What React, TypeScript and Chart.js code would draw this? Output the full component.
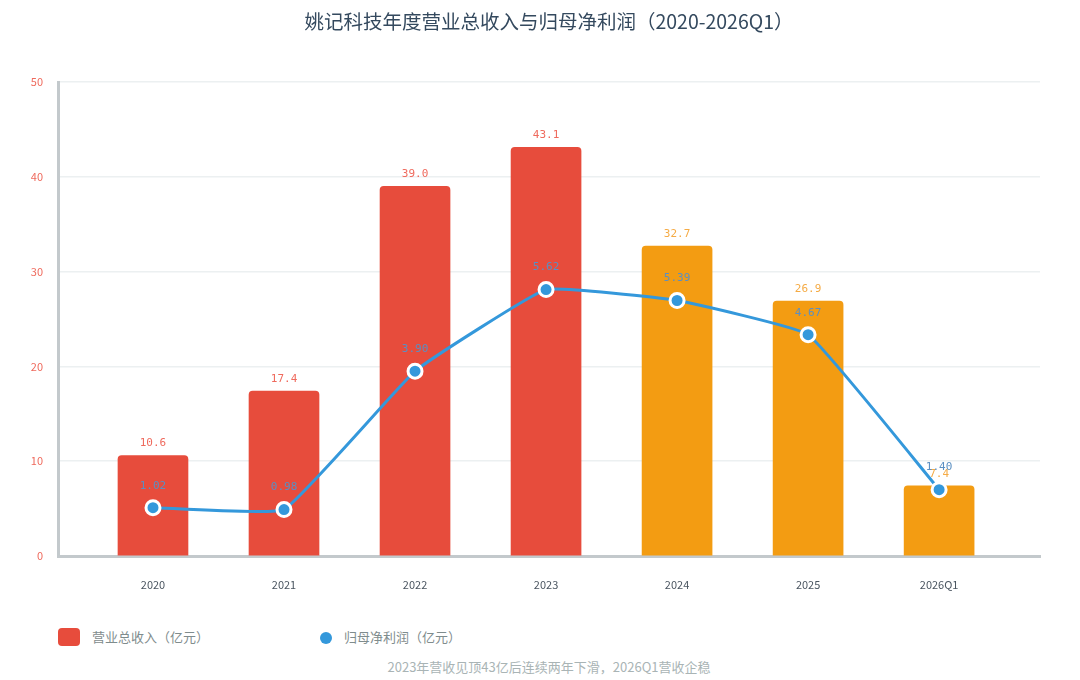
import React, { useEffect, useRef } from "react";
import { Chart, registerables } from "chart.js";

Chart.register(...registerables);

const categories = ["2020", "2021", "2022", "2023", "2024", "2025", "2026Q1"];
const revenue = [10.6, 17.4, 39.0, 43.1, 32.7, 26.9, 7.4];
const netProfit = [1.02, 0.98, 3.9, 5.62, 5.39, 4.67, 1.4];
const revenueTicks = [0, 10, 20, 30, 40, 50];
const profitAxisMax = 10;

const TITLE = "姚记科技年度营业总收入与归母净利润（2020-2026Q1）";
const REVENUE_LABEL = "营业总收入（亿元）";
const PROFIT_LABEL = "归母净利润（亿元）";
const FOOTNOTE = "2023年营收见顶43亿后连续两年下滑，2026Q1营收企稳";

const RED = "#e74c3c";
const ORANGE = "#f39c12";
const BLUE = "#3498db";
const barColors = [RED, RED, RED, RED, ORANGE, ORANGE, ORANGE];
const barLabelColors = ["#ef6a5d", "#ef6a5d", "#ef6a5d", "#ef6a5d", "#f5ab45", "#f5ab45", "#f5ab45"];
const PROFIT_LABEL_COLOR = "#5b8fc2";

const CJK = "'Noto Sans CJK SC', 'Noto Sans', sans-serif";
const MONO = "'DejaVu Sans Mono', 'Liberation Mono', monospace";

const valueLabels = {
  id: "valueLabels",
  afterDatasetsDraw(chart: any) {
    const ctx = chart.ctx;
    ctx.save();
    ctx.font = "11px " + MONO;
    ctx.textAlign = "center";
    ctx.textBaseline = "middle";
    const barMeta = chart.getDatasetMeta(0);
    barMeta.data.forEach((el: any, i: number) => {
      ctx.fillStyle = barLabelColors[i];
      ctx.fillText(revenue[i].toFixed(1), el.x, el.y - 12);
    });
    const lineMeta = chart.getDatasetMeta(1);
    lineMeta.data.forEach((el: any, i: number) => {
      ctx.fillStyle = PROFIT_LABEL_COLOR;
      ctx.fillText(netProfit[i].toFixed(2), el.x, el.y - 22);
    });
    ctx.restore();
  },
};

export default function App() {
  const canvasRef = useRef<HTMLCanvasElement | null>(null);

  useEffect(() => {
    const canvas = canvasRef.current;
    if (!canvas) return;
    const chart = new Chart(canvas, {
      type: "bar",
      data: {
        datasets: [
          {
            type: "bar",
            label: REVENUE_LABEL,
            data: revenue.map((v, i) => ({ x: i, y: v })),
            backgroundColor: barColors,
            borderRadius: 4,
            borderSkipped: "start",
            barThickness: 70,
            yAxisID: "y",
            order: 1,
          },
          {
            type: "line",
            label: PROFIT_LABEL,
            data: netProfit.map((v, i) => ({ x: i, y: v })),
            borderColor: BLUE,
            borderWidth: 3,
            backgroundColor: BLUE,
            pointBackgroundColor: BLUE,
            pointBorderColor: "#ffffff",
            pointBorderWidth: 3,
            pointRadius: 7,
            tension: 0.1,
            yAxisID: "y1",
            order: 0,
          },
        ] as any,
      },
      options: {
        animation: false,
        responsive: false,
        maintainAspectRatio: false,
        layout: { padding: { left: 0, right: 40, top: 82, bottom: 0 } },
        plugins: {
          legend: { display: false },
          tooltip: { enabled: false },
          title: { display: false },
        },
        scales: {
          x: {
            type: "linear",
            offset: false,
            bounds: "data",
            min: -0.725,
            max: 6.77,
            grid: { display: false, drawTicks: false, offset: false },
            border: { display: true, color: "#c3c9cc", width: 3 },
            afterBuildTicks: (scale: any) => {
              scale.ticks = categories.map((_, i) => ({ value: i }));
            },
            afterFit: (scale: any) => {
              scale.height = 44;
            },
            ticks: {
              autoSkip: false,
              maxRotation: 0,
              padding: 22,
              color: "#4a5560",
              font: { family: CJK, size: 11 },
              callback: (value: any) => categories[Math.round(Number(value))] ?? "",
            },
          },
          y: {
            type: "linear",
            position: "left",
            min: revenueTicks[0],
            max: revenueTicks[revenueTicks.length - 1],
            afterBuildTicks: (scale: any) => {
              scale.ticks = revenueTicks.map((v) => ({ value: v }));
            },
            afterFit: (scale: any) => {
              scale.width = 58;
            },
            grid: { color: "#ecf0f1", lineWidth: 1.5, drawTicks: false },
            border: { display: true, color: "#c3c9cc", width: 3 },
            ticks: {
              padding: 15,
              color: "#ef6a5d",
              font: { family: CJK, size: 11 },
            },
          },
          y1: {
            type: "linear",
            position: "right",
            display: false,
            min: 0,
            max: profitAxisMax,
            grid: { display: false },
          },
        },
      } as any,
      plugins: [valueLabels],
    });
    return () => chart.destroy();
  }, []);

  return (
    <div
      style={{
        position: "absolute",
        left: 0,
        top: 0,
        width: 1080,
        height: 680,
        background: "#ffffff",
        overflow: "hidden",
        fontFamily: CJK,
      }}
    >
      <canvas ref={canvasRef} width={1080} height={600} style={{ display: "block", width: 1080, height: 600 }} />
      <div
        style={{
          position: "absolute",
          left: 58,
          width: 982,
          top: 7,
          height: 28,
          lineHeight: "28px",
          textAlign: "center",
          fontSize: 19.5,
          color: "#34495e",
          whiteSpace: "nowrap",
        }}
      >
        {TITLE}
      </div>
      <div style={{ position: "absolute", left: 58, top: 628, width: 22, height: 18, borderRadius: 4, background: RED }} />
      <div
        style={{
          position: "absolute",
          left: 92,
          top: 628,
          height: 18,
          lineHeight: "18px",
          fontSize: 13,
          color: "#7f8c8d",
          whiteSpace: "nowrap",
        }}
      >
        {REVENUE_LABEL}
      </div>
      <div style={{ position: "absolute", left: 320, top: 632, width: 12, height: 12, borderRadius: 6, background: BLUE }} />
      <div
        style={{
          position: "absolute",
          left: 344,
          top: 628,
          height: 18,
          lineHeight: "18px",
          fontSize: 13,
          color: "#7f8c8d",
          whiteSpace: "nowrap",
        }}
      >
        {PROFIT_LABEL}
      </div>
      <div
        style={{
          position: "absolute",
          left: 58,
          width: 982,
          top: 658,
          height: 18,
          lineHeight: "18px",
          textAlign: "center",
          fontSize: 13,
          color: "#a9b4b5",
          whiteSpace: "nowrap",
        }}
      >
        {FOOTNOTE}
      </div>
    </div>
  );
}
